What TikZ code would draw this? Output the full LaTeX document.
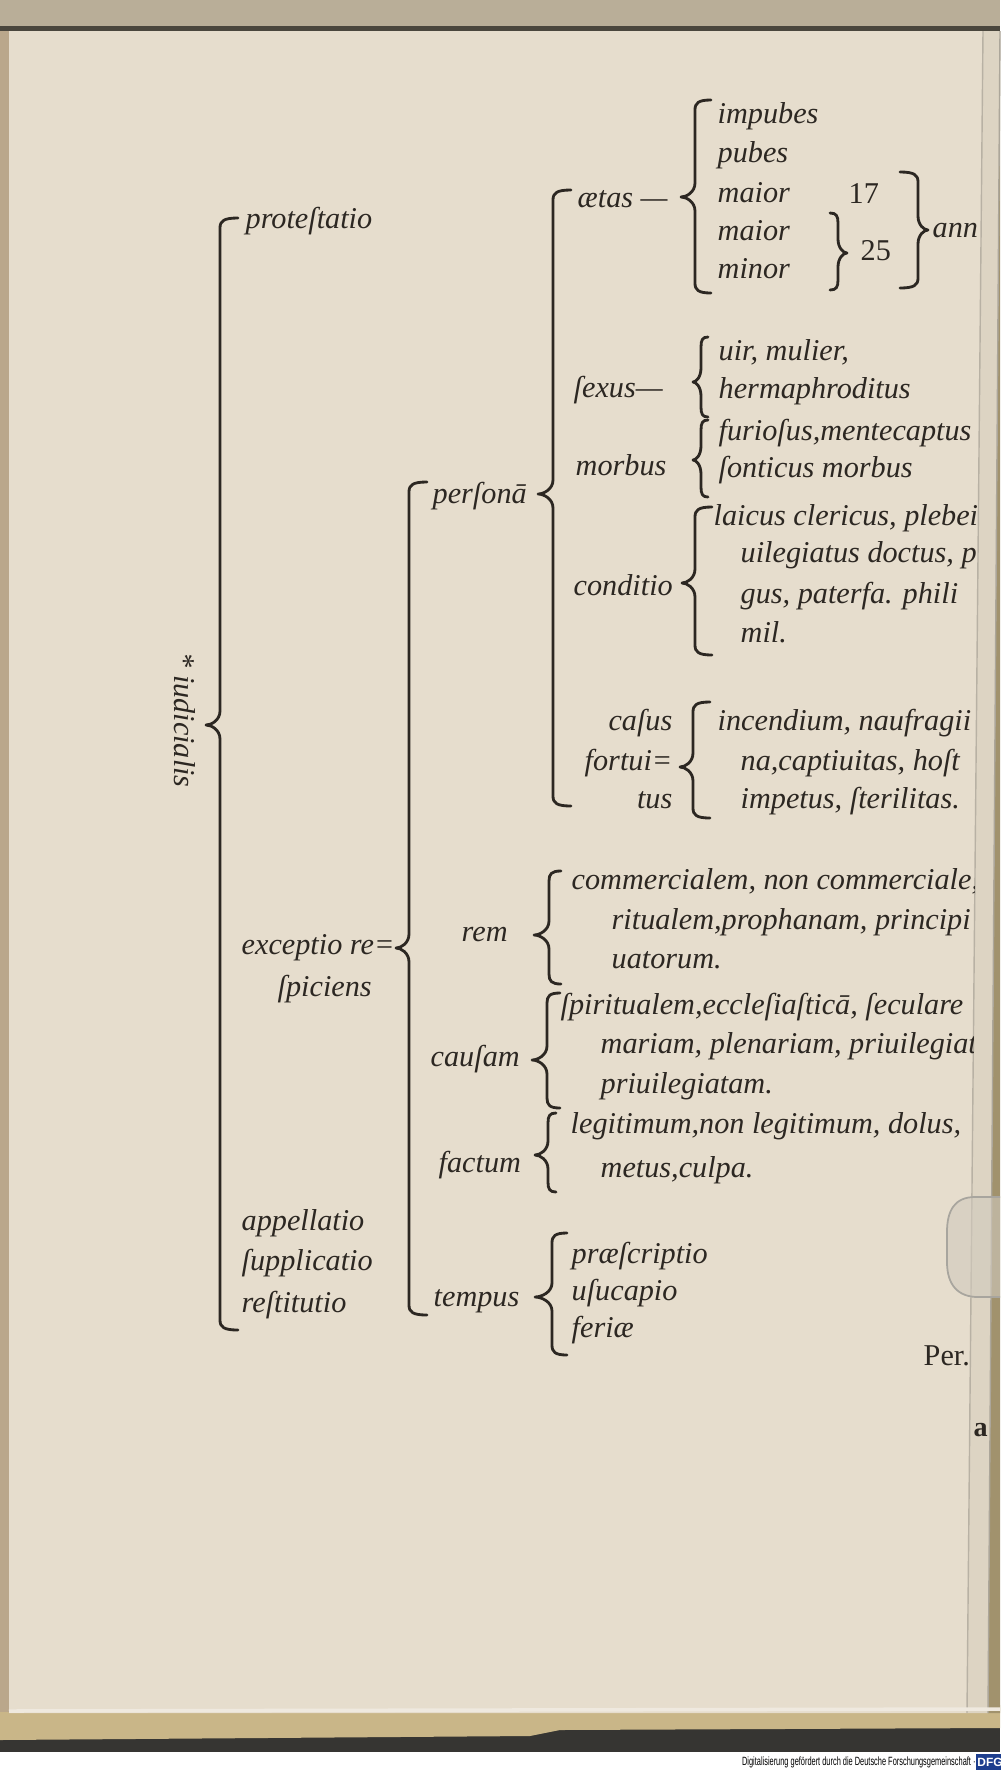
\documentclass[tikz,border=0pt]{standalone}
\usepackage{fontspec}
\setmainfont{Liberation Serif}
\newfontfamily\dfgfont{Liberation Sans}
\usepackage{tikz}

\definecolor{paper}{HTML}{E6DDCD}
\definecolor{paperedge}{HTML}{DDD4C3}
\definecolor{bookedge}{HTML}{B9AE98}
\definecolor{goldstrip}{HTML}{C9B688}
\definecolor{shadowgray}{HTML}{363532}
\definecolor{ink}{HTML}{2C2722}
\definecolor{dfgblue}{HTML}{1D3E8E}

\tikzset{
    lat/.style={font=\fontsize{8.6}{10}\selectfont\itshape, text=ink, inner sep=0pt, anchor=base west},
    latr/.style={lat, anchor=base east},
    num/.style={font=\fontsize{8.6}{10}\selectfont, text=ink, inner sep=0pt, anchor=base west},
    brace line/.style={draw=ink, line width=0.8pt, line cap=round, line join=round}
}

% x, top, tip, bottom, tip depth, hook length (negative values: tip to the right)
\newcommand{\printbrace}[6]{%
    \draw [brace line] ({#1+(#6)},#2) .. controls ({#1+0.2*(#6)},#2) and (#1,{#2+3}) .. (#1,{#2+10})
      -- (#1,{#3-14}) .. controls (#1,{#3-5}) and ({#1-0.6*(#5)},#3) .. ({#1-(#5)},#3)
      .. controls ({#1-0.6*(#5)},#3) and (#1,{#3+5}) .. (#1,{#3+14})
      -- (#1,{#4-10}) .. controls (#1,{#4-3}) and ({#1+0.2*(#6)},#4) .. ({#1+(#6)},#4);}

\begin{document}
\begin{tikzpicture}[x=0.1mm,y=-0.1mm]
    \useasboundingbox (0,0) rectangle (1000,1773);
    % the page and its surroundings
    \fill [white] (0,0) rectangle (1000,1773);
    \fill [shadowgray] (0,1700) rectangle (1000,1752);
    \fill [goldstrip] (0,1705) -- (1000,1705) -- (1000,1728) -- (560,1730) -- (530,1736) -- (0,1740) -- cycle;
    \fill [goldstrip!80!black] (1000,31) -- (988,1713) -- (1000,1713) -- cycle;
    \fill [paperedge] (983,31) -- (1000,31) -- (988,1713) -- (967,1713) -- cycle;
    \fill [paper] (9,31) -- (983,31) -- (967,1713) -- (9,1713) -- cycle;
    \fill [bookedge!85!brown] (0,26) rectangle (9,1712);
    \fill [bookedge] (0,0) rectangle (1000,26);
    \fill [black!60!bookedge] (0,26) rectangle (1000,31);
    \draw [paper!80!black, line width=0.4pt] (983,31) -- (967,1713);
    \draw [paper!75!black, line width=0.4pt] (1000,31) -- (988,1713);
    \draw [white!35!paper, line width=1pt] (9,1711) -- (1000,1709);
    % the clip on the right margin
    \draw [fill=gray!20!paper, fill opacity=0.6, draw=gray!60!paper, line width=0.5pt]
      (1000,1197) -- (975,1197) .. controls (955,1197) and (947,1210) .. (947,1232)
      -- (947,1262) .. controls (947,1285) and (958,1297) .. (978,1297) -- (1000,1297);

    % brackets
    \printbrace{220}{218}{725}{1330}{14}{18}
    \printbrace{409}{482}{948}{1315}{13}{18}
    \printbrace{553}{190}{494}{806}{15}{18}
    \printbrace{695}{100}{197}{293}{14}{16}
    \printbrace{701}{337}{382}{417}{8}{7}
    \printbrace{701}{420}{460}{497}{8}{7}
    \printbrace{695}{507}{583}{655}{13}{17}
    \printbrace{693}{702}{767}{818}{13}{17}
    \printbrace{549}{871}{935}{984}{15}{12}
    \printbrace{547}{993}{1060}{1108}{15}{13}
    \printbrace{548}{1113}{1155}{1192}{13}{8}
    \printbrace{552}{1233}{1297}{1355}{17}{15}
    \printbrace{838}{213}{253}{290}{-9}{-8}
    \printbrace{918}{172}{230}{288}{-10}{-18}

    \begin{scope}
      \clip (0,0) -- (983,0) -- (983,31) -- (967,1713) -- (0,1713) -- cycle;
      % first level
      \node (iud) at (185,720) [lat, anchor=center, rotate=-90] {* iudicialis};
      \node (prot) at (245,228) [lat] {proteſtatio};
      \node (excep) at (241,954) [lat] {exceptio re=};
      \node (spic) at (277,996) [lat] {ſpiciens};
      \node (appel) at (241,1230) [lat] {appellatio};
      \node (suppl) at (241,1270) [lat] {ſupplicatio};
      \node (restit) at (241,1312) [lat] {reſtitutio};
      % exceptio
      \node (pers) at (432,503) [lat] {perſonā};
      \node (rem) at (461,941) [lat] {rem};
      \node (caus) at (430,1066) [lat] {cauſam};
      \node (fact) at (438,1172) [lat] {factum};
      \node (temp) at (433,1306) [lat] {tempus};
      % persona
      \node (aet) at (577,207) [lat] {ætas —};
      \node (sex) at (573,397) [lat] {ſexus—};
      \node (morb) at (575,475) [lat] {morbus};
      \node (cond) at (573,595) [lat] {conditio};
      \node (casA) at (673,730) [latr] {caſus};
      \node (casB) at (673,770) [latr] {fortui=};
      \node (casC) at (673,808) [latr] {tus};
      % aetas
      \node (impub) at (717,123) [lat] {impubes};
      \node (pub) at (717,162) [lat] {pubes};
      \node (maiA) at (717,202) [lat] {maior};
      \node (maiB) at (717,240) [lat] {maior};
      \node (min) at (717,278) [lat] {minor};
      \node (seven) at (848,203) [num] {17};
      \node (twfive) at (860,260) [num] {25};
      \node (ann) at (932,237) [lat] {ann};
      % sexus, morbus, conditio, casus
      \node (uir) at (718,360) [lat] {uir, mulier,};
      \node (herm) at (718,398) [lat] {hermaphroditus};
      \node (fur) at (718,440) [lat] {furioſus,mentecaptus};
      \node (sont) at (718,477) [lat] {ſonticus morbus};
      \node (condA) at (713,525) [lat] {laicus clericus, plebeii};
      \node (condB) at (740,562) [lat] {uilegiatus doctus, p};
      \node (condC) at (740,603) [lat] {gus, paterfa. phili};
      \node (condD) at (740,642) [lat] {mil.};
      \node (incA) at (717,730) [lat] {incendium, naufragii};
      \node (incB) at (740,770) [lat] {na,captiuitas, hoſt};
      \node (incC) at (740,808) [lat] {impetus, ſterilitas.};
      % rem, causam, factum, tempus
      \node (remA) at (571,889) [lat] {commercialem, non commerciale,};
      \node (remB) at (611,929) [lat] {ritualem,prophanam, principi};
      \node (remC) at (611,968) [lat] {uatorum.};
      \node (causA) at (560,1014) [lat] {ſpiritualem,eccleſiaſticā, ſeculare};
      \node (causB) at (600,1053) [lat] {mariam, plenariam, priuilegiat};
      \node (causC) at (600,1093) [lat] {priuilegiatam.};
      \node (factA) at (570,1133) [lat] {legitimum,non legitimum, dolus,};
      \node (factB) at (600,1177) [lat] {metus,culpa.};
      \node (tempA) at (571,1263) [lat] {præſcriptio};
      \node (tempB) at (571,1300) [lat] {uſucapio};
      \node (tempC) at (571,1337) [lat] {feriæ};
      \node (per) at (923,1365) [num] {Per.};
    \end{scope}
    \node (edgea) at (973,1436) [num, font=\fontsize{8}{9}\selectfont\bfseries] {a};

    % digitisation note
    \node (dfgnote) at (976,1762) [anchor=east, inner sep=0pt, xscale=0.62,
      font=\dfgfont\fontsize{3.4}{4}\selectfont] {Digitalisierung gefördert durch die Deutsche Forschungsgemeinschaft ·};
    \node (dfg) at (990,1762) [fill=dfgblue, text=white, inner sep=0.3pt, minimum width=2mm, minimum height=1.6mm,
      font=\dfgfont\bfseries\fontsize{3.4}{4}\selectfont] {DFG};
\end{tikzpicture}
\end{document}
